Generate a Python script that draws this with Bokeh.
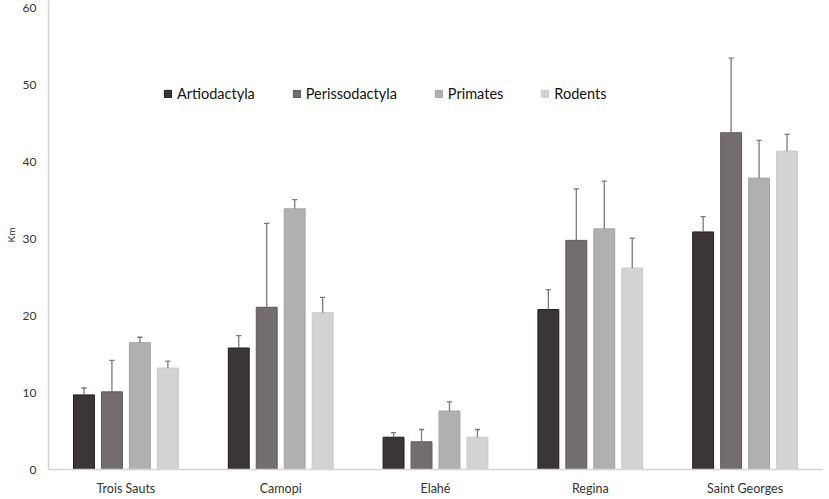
from bokeh.plotting import figure
from bokeh.models import ColumnDataSource, FixedTicker, Legend, LegendItem, FactorRange
from bokeh.transform import dodge
from bokeh.embed import file_html
from bokeh.resources import INLINE

sites = ["Trois Sauts", "Camopi", "Elahé", "Regina", "Saint Georges"]
series = ["Artiodactyla", "Perissodactyla", "Primates", "Rodents"]

artiodactyla = [9.7, 15.8, 4.2, 20.8, 30.9]
artiodactyla_err = [0.9, 1.6, 0.6, 2.6, 2.0]
perissodactyla = [10.1, 21.1, 3.6, 29.8, 43.8]
perissodactyla_err = [4.1, 10.9, 1.6, 6.7, 9.7]
primates = [16.5, 33.9, 7.6, 31.3, 37.9]
primates_err = [0.7, 1.2, 1.2, 6.2, 4.9]
rodents = [13.2, 20.4, 4.2, 26.2, 41.4]
rodents_err = [0.9, 2.0, 1.0, 3.9, 2.2]

fills = ["#3b3635", "#736d6d", "#b0b0b0", "#d3d3d3"]
lines = ["#1f1b1b", "#5e5858", "#a4a4a4", "#c9c9c9"]
offsets = [-0.271, -0.0903, 0.0903, 0.271]

p = figure(x_range=FactorRange(*sites), y_range=(0, 61),
           frame_width=774, frame_height=469, output_backend="svg", toolbar_location=None,
           min_border_left=48, min_border_right=7, min_border_top=0, min_border_bottom=30)
p.outline_line_color = None
p.xgrid.grid_line_color = None
p.ygrid.grid_line_color = None
p.background_fill_color = "white"

vals = [artiodactyla, perissodactyla, primates, rodents]
errs = [artiodactyla_err, perissodactyla_err, primates_err, rodents_err]
items = []
for i, name in enumerate(series):
    up = [v + e for v, e in zip(vals[i], errs[i])]
    src = ColumnDataSource(dict(site=sites, val=vals[i], up=up))
    r = p.vbar(x=dodge("site", offsets[i], range=p.x_range), top="val", width=0.135,
               source=src, fill_color=fills[i], line_color=lines[i], line_width=1)
    p.segment(x0=dodge("site", offsets[i], range=p.x_range), y0="val",
              x1=dodge("site", offsets[i], range=p.x_range), y1="up",
              source=src, line_color="#7a7a7a", line_width=1.3)
    p.segment(x0=dodge("site", offsets[i] - 0.017, range=p.x_range), y0="up",
              x1=dodge("site", offsets[i] + 0.017, range=p.x_range), y1="up",
              source=src, line_color="#7a7a7a", line_width=1.3)
    items.append(LegendItem(label=name, renderers=[r]))

legend = Legend(items=items, orientation="horizontal", location=(115, 366),
                padding=0, margin=0, spacing=37, label_standoff=5,
                glyph_width=9, glyph_height=9, border_line_color=None,
                background_fill_alpha=0, label_text_font="Lato",
                label_text_font_size="14.5px", label_text_color="#111111",
                label_height=20)
p.add_layout(legend, "center")

p.yaxis.ticker = FixedTicker(ticks=[0, 10, 20, 30, 40, 50, 60])
p.yaxis.axis_label = "Km"
p.yaxis.axis_label_text_font = "Lato"
p.yaxis.axis_label_text_font_size = "10px"
p.yaxis.axis_label_text_font_style = "normal"
p.yaxis.axis_label_text_color = "#222222"
p.yaxis.axis_label_standoff = 3
p.yaxis.major_label_text_font = "Lato"
p.yaxis.major_label_text_font_size = "12px"
p.yaxis.major_label_text_color = "#333333"
p.yaxis.major_label_standoff = 12
for ax in (p.xaxis, p.yaxis):
    ax.axis_line_color = "#d4d4d4"
    ax.axis_line_width = 1.5
    ax.major_tick_line_color = None
    ax.minor_tick_line_color = None
    ax.major_tick_out = 0
    ax.major_tick_in = 0
    ax.minor_tick_out = 0
    ax.minor_tick_in = 0
p.xaxis.major_label_text_font = "Lato"
p.xaxis.major_label_text_font_size = "12.5px"
p.xaxis.major_label_text_color = "#333333"
p.xaxis.major_label_standoff = 11

open("out.html", "w").write(file_html(p, INLINE))
